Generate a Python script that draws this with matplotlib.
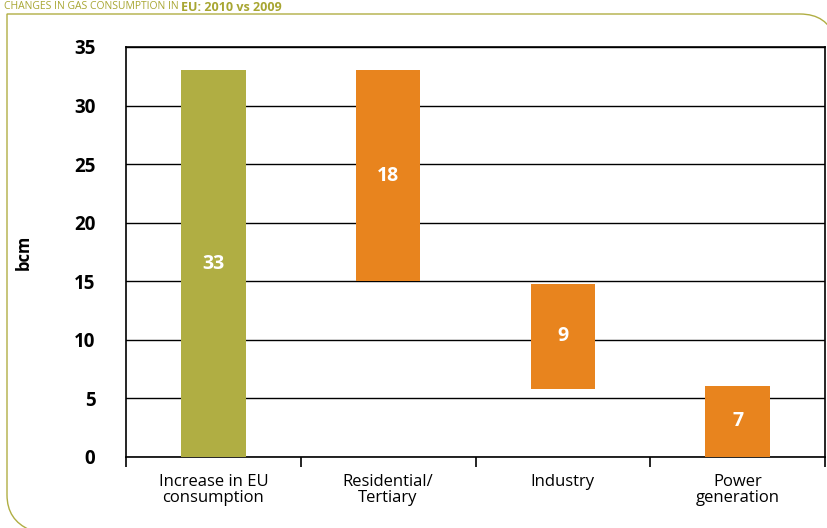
import matplotlib
matplotlib.use("Agg")
import matplotlib.pyplot as plt
from matplotlib.path import Path
import matplotlib.patches as patches

plt.rcParams['font.family'] = ['Open Sans', 'DejaVu Sans']

# data
categories = ['Increase in EU\nconsumption', 'Residential/\nTertiary', 'Industry', 'Power\ngeneration']
bottoms = [0, 15, 5.8, 0]
heights = [33, 18, 9, 6.1]
value_labels = ['33', '18', '9', '7']
bar_colors = ['#b0ae43', '#e8841e', '#e8841e', '#e8841e']

W, H = 827, 528
fig = plt.figure(figsize=(W / 100, H / 100), dpi=100)
ax = fig.add_axes([126 / W, 1 - 457 / H, (825 - 126) / W, (457 - 47) / H])

x = range(len(categories))
ax.bar(x, heights, bottom=bottoms, width=0.37, color=bar_colors, zorder=3)
for xi, b, h, lab in zip(x, bottoms, heights, value_labels):
    ax.text(xi, b + h / 2, lab, ha='center', va='center', color='white',
            fontsize=14, fontweight='bold', zorder=4)

ax.set_xlim(-0.5, 3.5)
ax.set_ylim(0, 35)
ax.set_yticks(range(0, 36, 5))
ax.tick_params(axis='y', length=0, pad=22, labelsize=13.5)
for t in ax.get_yticklabels():
    t.set_fontweight('bold')
ax.yaxis.grid(True, color='black', linewidth=1.0, zorder=1)
ax.set_axisbelow(True)

# category ticks at the boundaries, labels centred
ax.set_xticks([-0.5, 0.5, 1.5, 2.5, 3.5])
ax.set_xticklabels([])
ax.tick_params(axis='x', which='major', length=7, width=1.2, direction='out')
ax.set_xticks(list(x), minor=True)
ax.set_xticklabels(categories, minor=True, fontsize=12, linespacing=1.0)
ax.tick_params(axis='x', which='minor', length=0, pad=12)

for s in ax.spines.values():
    s.set_color('black')
    s.set_linewidth(1.2)

ax.set_ylabel('bcm', fontsize=12, fontweight='bold', labelpad=30)

# title in the top strip
t1 = fig.text(4 / W, 1 - 1 / H, 'CHANGES IN GAS CONSUMPTION IN ', fontsize=7.5,
              color='#a8a632', ha='left', va='top')
fig.canvas.draw()
bb = t1.get_window_extent()
fig.text(bb.x1 / W, 1 - 1 / H, 'EU: 2010 vs 2009', fontsize=9, fontweight='bold',
         color='#a8a632', ha='left', va='top')

# rounded frame
def fp(px, py):
    return (px / W, 1 - py / H)

verts = [fp(835, 38), fp(827, 14), fp(800, 14), fp(7, 14), fp(7, 495), fp(7, 520), fp(30, 530)]
codes = [Path.MOVETO, Path.CURVE3, Path.CURVE3, Path.LINETO, Path.LINETO, Path.CURVE3, Path.CURVE3]
fig.patches.append(patches.PathPatch(Path(verts, codes), facecolor='none', edgecolor='#b0ae43',
                                     linewidth=1.0, transform=fig.transFigure))

fig.savefig('out.png', dpi=100, facecolor='white')
